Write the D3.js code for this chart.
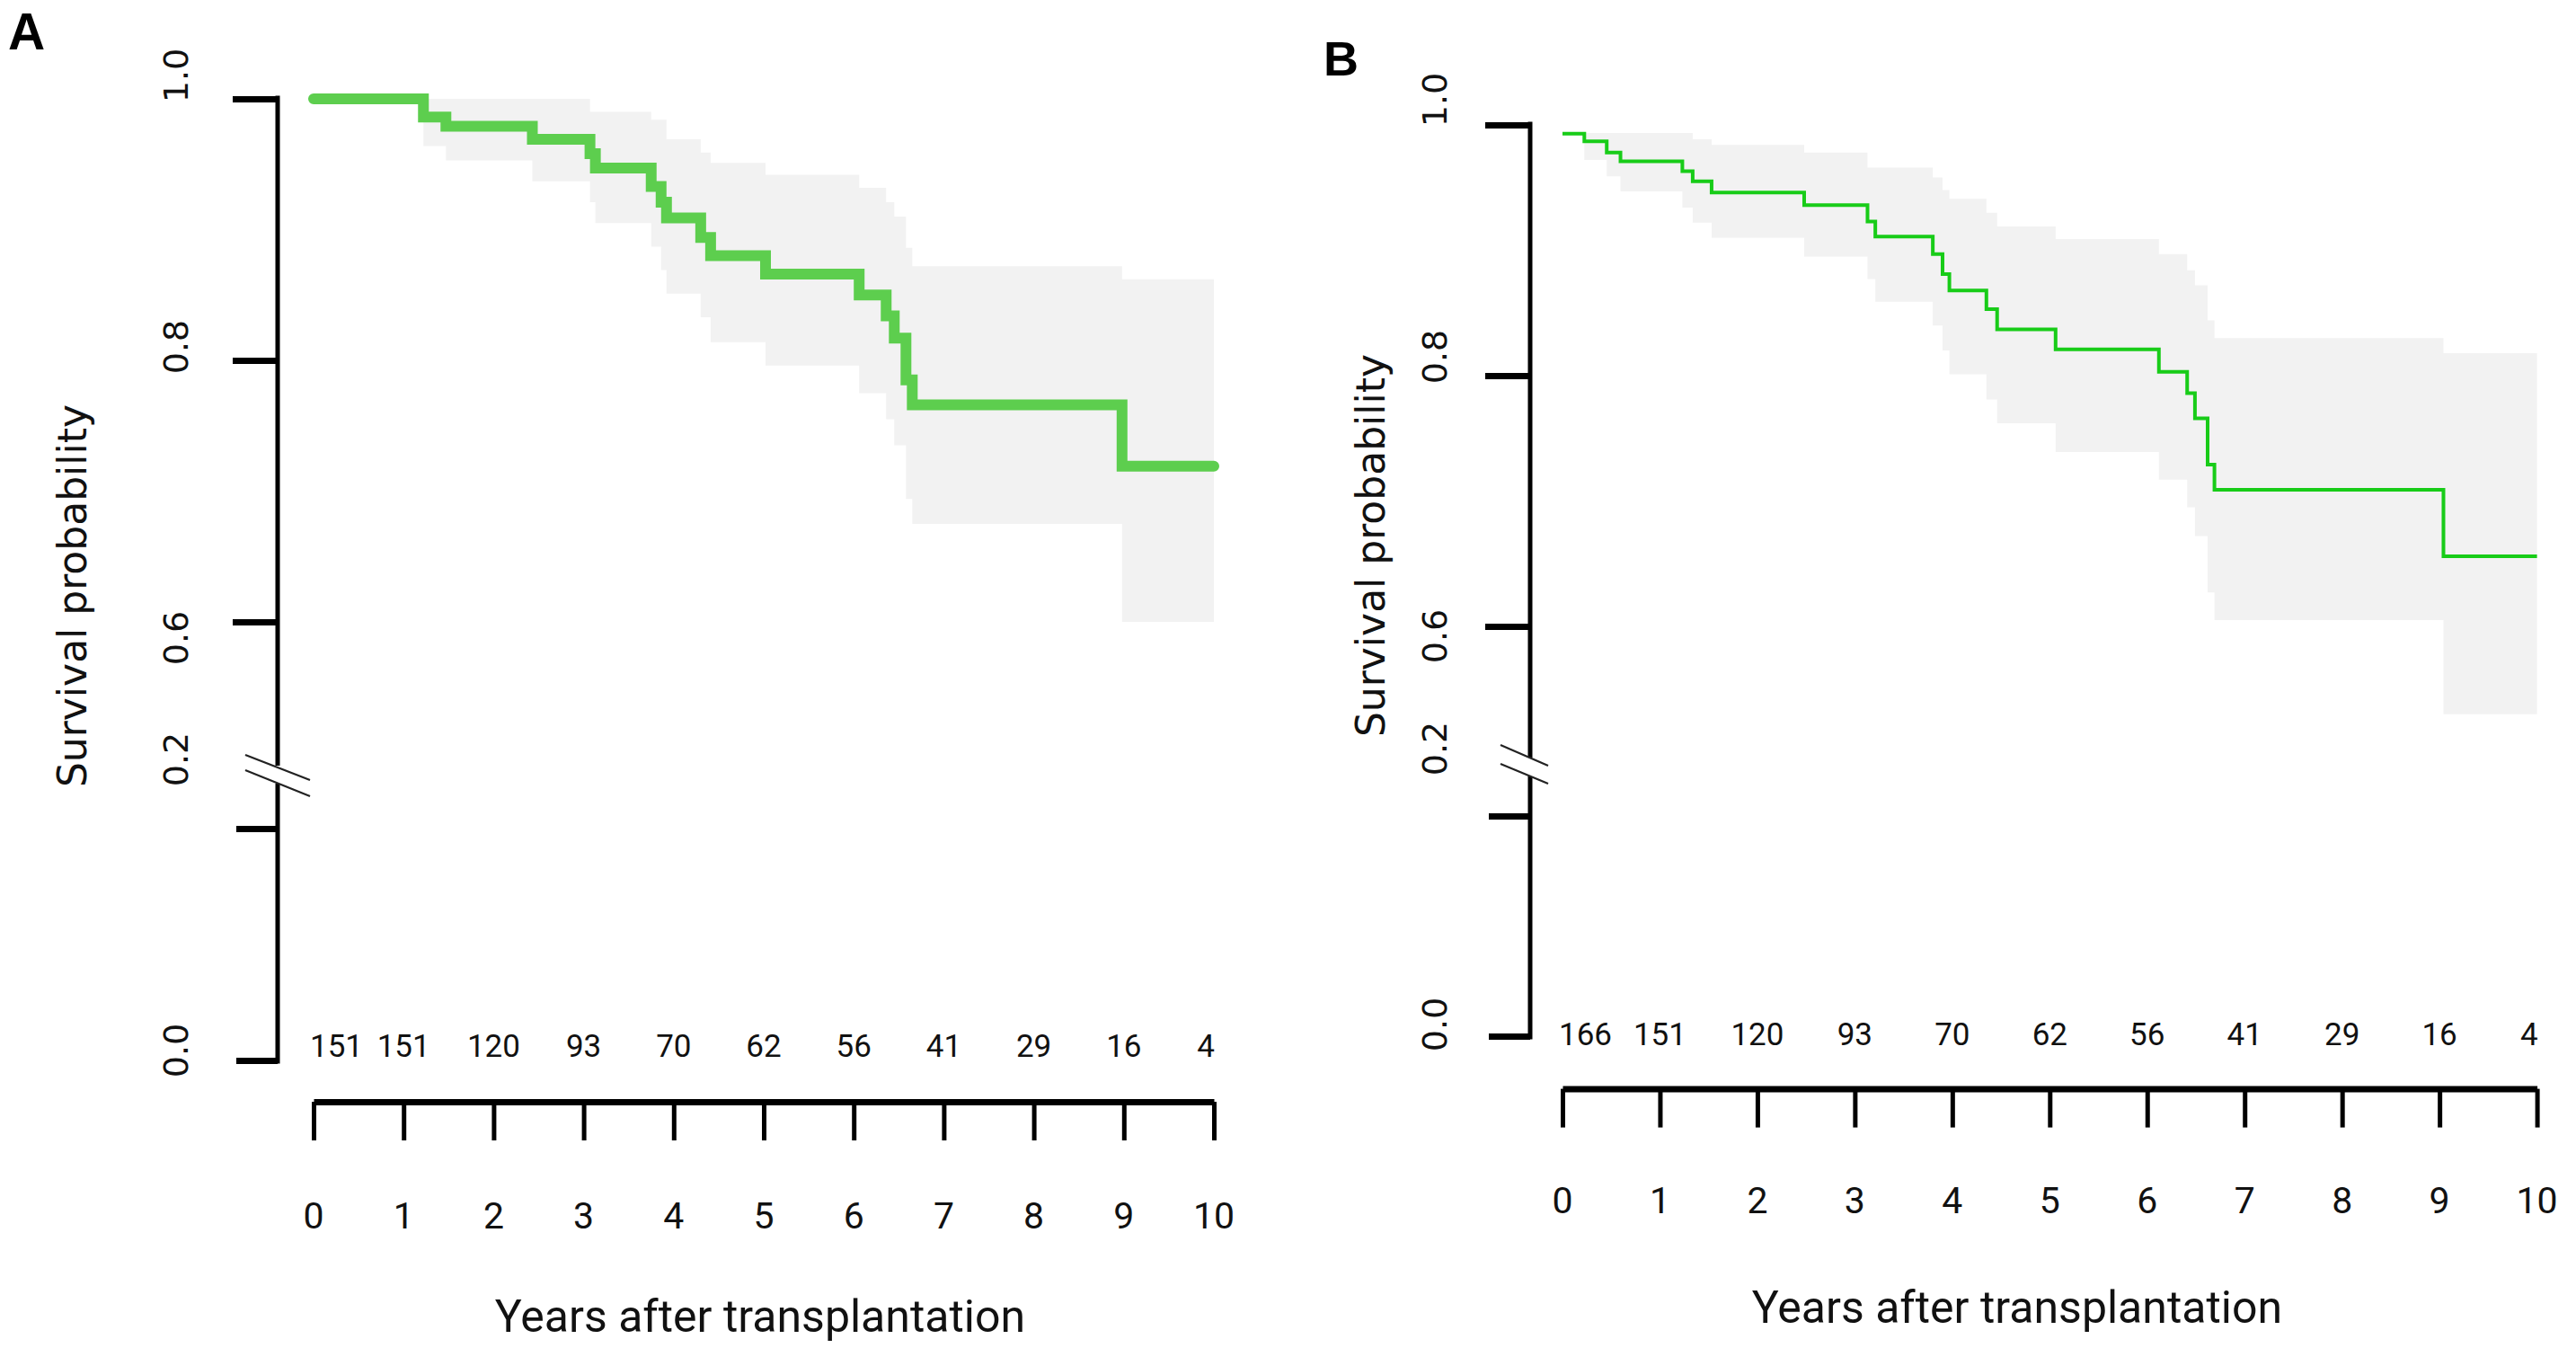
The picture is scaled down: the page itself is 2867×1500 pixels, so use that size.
<!DOCTYPE html>
<html>
<head>
<meta charset="utf-8">
<script src="https://cdn.jsdelivr.net/npm/d3@7/dist/d3.min.js"></script>
<style>
  html, body { margin: 0; padding: 0; background: #fff; }
  svg { display: block; }
</style>
</head>
<body>
<script>
// ---------------- DATA ----------------
const panelLabels = ["A", "B"];
const xTitle = "Years after transplantation";
const yTitle = "Survival probability";
const years = [0, 1, 2, 3, 4, 5, 6, 7, 8, 9, 10];
const yTickValues = [1.0, 0.8, 0.6, 0.2, 0.0];
const yTickLabels = ["1.0", "0.8", "0.6", "0.2", "0.0"];

const riskA = [151, 151, 120, 93, 70, 62, 56, 41, 29, 16, 4];
const riskB = [166, 151, 120, 93, 70, 62, 56, 41, 29, 16, 4];

// Panel A Kaplan-Meier steps (time in years, survival, 95% CI)
const timeA  = [0, 1.22, 1.47, 2.43, 3.07, 3.13, 3.75, 3.86, 3.92, 4.30, 4.41, 5.02, 6.06, 6.36, 6.45, 6.58, 6.65, 8.98, 10];
const survA  = [1.0, 0.986, 0.979, 0.969, 0.958, 0.947, 0.933, 0.921, 0.909, 0.894, 0.880, 0.866, 0.850, 0.834, 0.817, 0.785, 0.766, 0.719, 0.719];
const upperA = [1.0, 1.0, 1.0, 1.0, 0.990, 0.990, 0.984, 0.984, 0.969, 0.959, 0.951, 0.942, 0.932, 0.921, 0.910, 0.886, 0.872, 0.862, 0.862];
const lowerA = [1.0, 0.964, 0.953, 0.937, 0.921, 0.905, 0.887, 0.869, 0.851, 0.833, 0.814, 0.796, 0.775, 0.755, 0.735, 0.694, 0.675, 0.600, 0.600];

// Panel B Kaplan-Meier steps
const timeB  = [0, 0.224, 0.454, 0.595, 1.23, 1.336, 1.53, 2.48, 3.13, 3.21, 3.80, 3.90, 3.97, 4.35, 4.46, 5.06, 6.12, 6.41, 6.49, 6.62, 6.69, 9.04, 10];
const survB  = [0.993, 0.987, 0.978, 0.971, 0.963, 0.955, 0.946, 0.936, 0.923, 0.911, 0.897, 0.881, 0.868, 0.853, 0.837, 0.821, 0.803, 0.786, 0.766, 0.729, 0.709, 0.656, 0.656];
const upperB = [0.9935, 0.9935, 0.9935, 0.9935, 0.9935, 0.9885, 0.984, 0.978, 0.966, 0.966, 0.958, 0.948, 0.941, 0.930, 0.919, 0.909, 0.897, 0.884, 0.872, 0.844, 0.830, 0.818, 0.818];
const lowerB = [0.993, 0.972, 0.959, 0.947, 0.934, 0.922, 0.910, 0.895, 0.877, 0.859, 0.840, 0.820, 0.801, 0.781, 0.762, 0.739, 0.717, 0.695, 0.672, 0.627, 0.605, 0.530, 0.530];

// ---------------- LAYOUT ----------------
const W = 2867, H = 1500;
const svg = d3.select("body").append("svg")
  .attr("width", W).attr("height", H)
  .attr("viewBox", `0 0 ${W} ${H}`);

const panels = [
  {
    label: panelLabels[0], labelX: 9, labelY: 55, labelSize: 57,
    time: timeA, surv: survA, upper: upperA, lower: lowerA, risk: riskA,
    axisX: 309, xRange: [349, 1351],
    yTopRange: [692, 110], yLowRange: [1180, 922],
    breakTop: 852, breakBottom: 872,
    slash1: [[273, 840], [345, 868]], slash2: [[273, 857], [345, 886]],
    tickLabX: 196, tickLabOffsets: [-26, -15, 18, -77, -11],
    xAxisY: 1226, riskY: 1164, xLabY: 1353,
    xTitleX: 846, xTitleY: 1465,
    yTitleX: 80, yTitleY: 663,
    lineColor: "#5dce4e", lineWidth: 12, lineCap: "round"
  },
  {
    label: panelLabels[1], labelX: 1473, labelY: 84, labelSize: 54,
    time: timeB, surv: survB, upper: upperB, lower: lowerB, risk: riskB,
    axisX: 1703, xRange: [1739, 2823.6],
    yTopRange: [697, 139], yLowRange: [1153, 908],
    breakTop: 843, breakBottom: 864,
    slash1: [[1670, 829], [1723, 852]], slash2: [[1670, 850], [1723, 872]],
    tickLabX: 1597, tickLabOffsets: [-28, -21, 11, -75, -13],
    xAxisY: 1211.6, riskY: 1151, xLabY: 1336,
    xTitleX: 2245, xTitleY: 1455,
    yTitleX: 1525, yTitleY: 607,
    lineColor: "#18cc18", lineWidth: 4, lineCap: "butt"
  }
];

panels.forEach(p => {
  const g = svg.append("g");
  const x = d3.scaleLinear().domain([0, 10]).range(p.xRange);
  const yTop = d3.scaleLinear().domain([0.6, 1.0]).range(p.yTopRange);
  const yLow = d3.scaleLinear().domain([0.0, 0.2]).range(p.yLowRange);
  const yPos = v => (v >= 0.6 ? yTop(v) : yLow(v));

  const rows = p.time.map((t, i) => ({ t, s: p.surv[i], up: p.upper[i], lo: p.lower[i] }));

  // confidence band
  const area = d3.area()
    .curve(d3.curveStepAfter)
    .x(d => x(d.t))
    .y0(d => yTop(d.lo))
    .y1(d => yTop(d.up));
  g.append("path").datum(rows)
    .attr("d", area)
    .attr("fill", "#f2f2f2")
    .attr("stroke", "none");

  // survival curve
  const line = d3.line()
    .curve(d3.curveStepAfter)
    .x(d => x(d.t))
    .y(d => yTop(d.s));
  g.append("path").datum(rows)
    .attr("d", line)
    .attr("fill", "none")
    .attr("stroke", p.lineColor)
    .attr("stroke-width", p.lineWidth)
    .attr("stroke-linecap", p.lineCap)
    .attr("stroke-linejoin", "miter");

  // y axis: top segment ticks
  const axTop = g.append("g")
    .attr("transform", `translate(${p.axisX},0)`)
    .call(d3.axisLeft(yTop).tickValues(yTickValues.filter(v => v >= 0.6))
      .tickSize(50).tickFormat(""));
  const axLow = g.append("g")
    .attr("transform", `translate(${p.axisX},0)`)
    .call(d3.axisLeft(yLow).tickValues(yTickValues.filter(v => v < 0.6))
      .tickSize(46).tickFormat(""));
  [axTop, axLow].forEach(a => {
    a.select(".domain").remove();
    a.selectAll(".tick line").attr("stroke", "#000").attr("stroke-width", 7);
  });

  // y axis line in two pieces (broken)
  g.append("line")
    .attr("x1", p.axisX).attr("x2", p.axisX)
    .attr("y1", yTop(1.0) - 3.5).attr("y2", p.breakTop)
    .attr("stroke", "#000").attr("stroke-width", 5);
  g.append("line")
    .attr("x1", p.axisX).attr("x2", p.axisX)
    .attr("y1", p.breakBottom).attr("y2", yLow(0) + 3.5)
    .attr("stroke", "#000").attr("stroke-width", 5);
  [p.slash1, p.slash2].forEach(s => {
    g.append("line")
      .attr("x1", s[0][0]).attr("y1", s[0][1])
      .attr("x2", s[1][0]).attr("y2", s[1][1])
      .attr("stroke", "#222").attr("stroke-width", 2.2);
  });

  // y tick labels (rotated)
  yTickValues.forEach((v, i) => {
    const yy = yPos(v) + p.tickLabOffsets[i];
    g.append("text")
      .attr("transform", `translate(${p.tickLabX},${yy}) rotate(-90)`)
      .attr("text-anchor", "middle")
      .attr("dominant-baseline", "central")
      .attr("font-family", "'DejaVu Sans', Verdana, sans-serif")
      .attr("font-size", 38)
      .attr("fill", "#111")
      .text(yTickLabels[i]);
  });

  // y title
  g.append("text")
    .attr("transform", `translate(${p.yTitleX},${p.yTitleY}) rotate(-90)`)
    .attr("text-anchor", "middle")
    .attr("dominant-baseline", "central")
    .attr("font-family", "'DejaVu Sans', Verdana, sans-serif")
    .attr("font-size", 44)
    .attr("fill", "#111")
    .text(yTitle);

  // x axis
  const axX = g.append("g")
    .attr("transform", `translate(0,${p.xAxisY})`)
    .call(d3.axisBottom(x).tickValues(years).tickSize(43).tickSizeOuter(0).tickFormat(""));
  axX.select(".domain").attr("stroke", "#000").attr("stroke-width", 7);
  axX.selectAll(".tick line").attr("stroke", "#000").attr("stroke-width", 5);

  // x tick labels
  g.selectAll(null).data(years).enter().append("text")
    .attr("x", d => x(d))
    .attr("y", p.xLabY)
    .attr("text-anchor", "middle")
    .attr("dominant-baseline", "central")
    .attr("font-family", "Roboto, sans-serif")
    .attr("font-size", 41)
    .attr("fill", "#111")
    .text(d => d);

  // numbers at risk
  g.selectAll(null).data(p.risk).enter().append("text")
    .attr("x", (d, i) => i === 0 ? x(years[i]) - 4 : (i === years.length - 1 ? x(years[i]) + 1 : x(years[i])))
    .attr("y", p.riskY)
    .attr("text-anchor", (d, i) => i === 0 ? "start" : (i === years.length - 1 ? "end" : "middle"))
    .attr("dominant-baseline", "central")
    .attr("font-family", "Roboto, sans-serif")
    .attr("font-size", 35)
    .attr("fill", "#111")
    .text(d => d);

  // x title
  g.append("text")
    .attr("x", p.xTitleX).attr("y", p.xTitleY)
    .attr("text-anchor", "middle")
    .attr("dominant-baseline", "central")
    .attr("font-family", "Roboto, sans-serif")
    .attr("font-size", 50)
    .attr("fill", "#111")
    .text(xTitle);

  // panel label
  g.append("text")
    .attr("x", p.labelX).attr("y", p.labelY)
    .attr("font-family", "'Liberation Sans', Arial, sans-serif")
    .attr("font-weight", "bold")
    .attr("font-size", p.labelSize)
    .attr("fill", "#000")
    .text(p.label);
});
</script>
</body>
</html>
